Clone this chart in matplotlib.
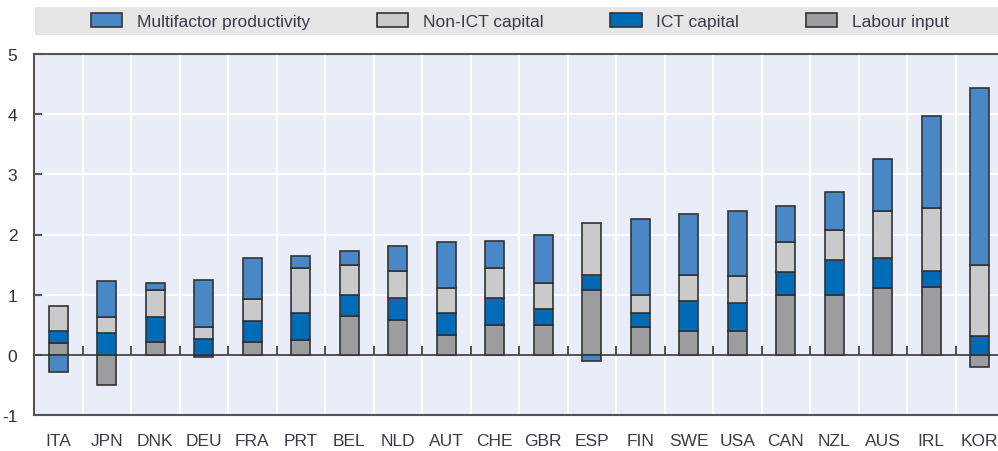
import matplotlib
matplotlib.use("Agg")
from matplotlib import pyplot as plt
from matplotlib.patches import Patch, Rectangle
import numpy as np

plt.rcParams['font.family'] = ['Liberation Sans Narrow', 'Liberation Sans', 'DejaVu Sans']
plt.rcParams['axes.unicode_minus'] = False

countries = ["ITA", "JPN", "DNK", "DEU", "FRA", "PRT", "BEL", "NLD", "AUT", "CHE",
             "GBR", "ESP", "FIN", "SWE", "USA", "CAN", "NZL", "AUS", "IRL", "KOR"]
labour = [0.19, -0.50, 0.21, -0.03, 0.21, 0.24, 0.64, 0.58, 0.33, 0.50,
          0.50, 1.08, 0.47, 0.39, 0.39, 1.00, 1.00, 1.11, 1.13, -0.20]
ict = [0.20, 0.36, 0.42, 0.26, 0.35, 0.45, 0.35, 0.36, 0.36, 0.44,
       0.26, 0.25, 0.22, 0.50, 0.47, 0.37, 0.58, 0.50, 0.27, 0.31]
non_ict = [0.42, 0.27, 0.45, 0.21, 0.37, 0.75, 0.50, 0.45, 0.42, 0.50,
           0.43, 0.86, 0.31, 0.44, 0.45, 0.50, 0.50, 0.78, 1.04, 1.18]
mfp = [-0.28, 0.59, 0.12, 0.78, 0.68, 0.20, 0.24, 0.42, 0.76, 0.45,
       0.81, -0.11, 1.25, 1.01, 1.08, 0.61, 0.62, 0.87, 1.53, 2.95]

series = [("Labour input", labour, "#9c9da1"),
          ("ICT capital", ict, "#006cb7"),
          ("Non-ICT capital", non_ict, "#c9cacc"),
          ("Multifactor productivity", mfp, "#4a87c7")]

fig = plt.figure(figsize=(9.98, 4.52), dpi=100)
ax = fig.add_axes([34/998, 1-416/452, 970/998, 361/452])
ax.set_facecolor("#e9edf7")

x = np.arange(len(countries))
pos_base = np.zeros(len(countries))
neg_base = np.zeros(len(countries))
for name, vals, col in series:
    v = np.array(vals)
    bottom = np.where(v >= 0, pos_base, neg_base)
    ax.bar(x, v, 0.4, bottom=bottom, color=col, edgecolor="#333333", linewidth=1.2, zorder=3)
    pos_base += np.where(v >= 0, v, 0)
    neg_base += np.where(v < 0, v, 0)

ax.set_xlim(-0.5, len(countries) - 0.5)
ax.set_ylim(-1, 5)
ax.set_yticks(range(-1, 6))
ax.set_xticks(x)
ax.set_xticklabels(countries)
ax.set_xticks(np.arange(-0.5, len(countries)), minor=True)

ax.grid(True, axis="y", color="white", linewidth=1.5, zorder=0)
ax.grid(True, axis="x", which="minor", color="white", linewidth=1.5, zorder=0)
ax.grid(False, axis="x", which="major")
ax.set_axisbelow(True)

ax.axhline(0, color="#444444", linewidth=1.3, zorder=2)
# small boundary ticks sitting on the zero line
ax.vlines(np.arange(0.5, len(countries) - 0.5), 0, 0.15, color="#444444", linewidth=1.3, zorder=2)

for s in ["left", "bottom", "top"]:
    ax.spines[s].set_color("#555555")
    ax.spines[s].set_linewidth(1.5)
ax.spines["right"].set_visible(False)

ax.tick_params(axis="y", direction="in", length=6, width=1.5, color="#555555",
               labelsize=12.5, labelcolor="#333333", pad=12)
ax.tick_params(axis="x", which="both", length=0, labelsize=12.5, labelcolor="#3a3a4a", pad=13)

# legend band
fig.patches.append(Rectangle((35/998, 1-36/452), 963/998, 28/452, transform=fig.transFigure,
                             facecolor="#e6e6e6", edgecolor="none", zorder=0))
handles = [Patch(facecolor=col, edgecolor="#333333", linewidth=1.2, label=name)
           for name, vals, col in reversed(series)]
fig.legend(handles=handles, loc="center", bbox_to_anchor=(520/998, 1-22/452), ncol=4,
           frameon=False, fontsize=12.5, handlelength=1.8, handleheight=0.9,
           handletextpad=0.85, columnspacing=3.85, labelcolor="#3a3a4a")

fig.savefig("out.png", dpi=100)
